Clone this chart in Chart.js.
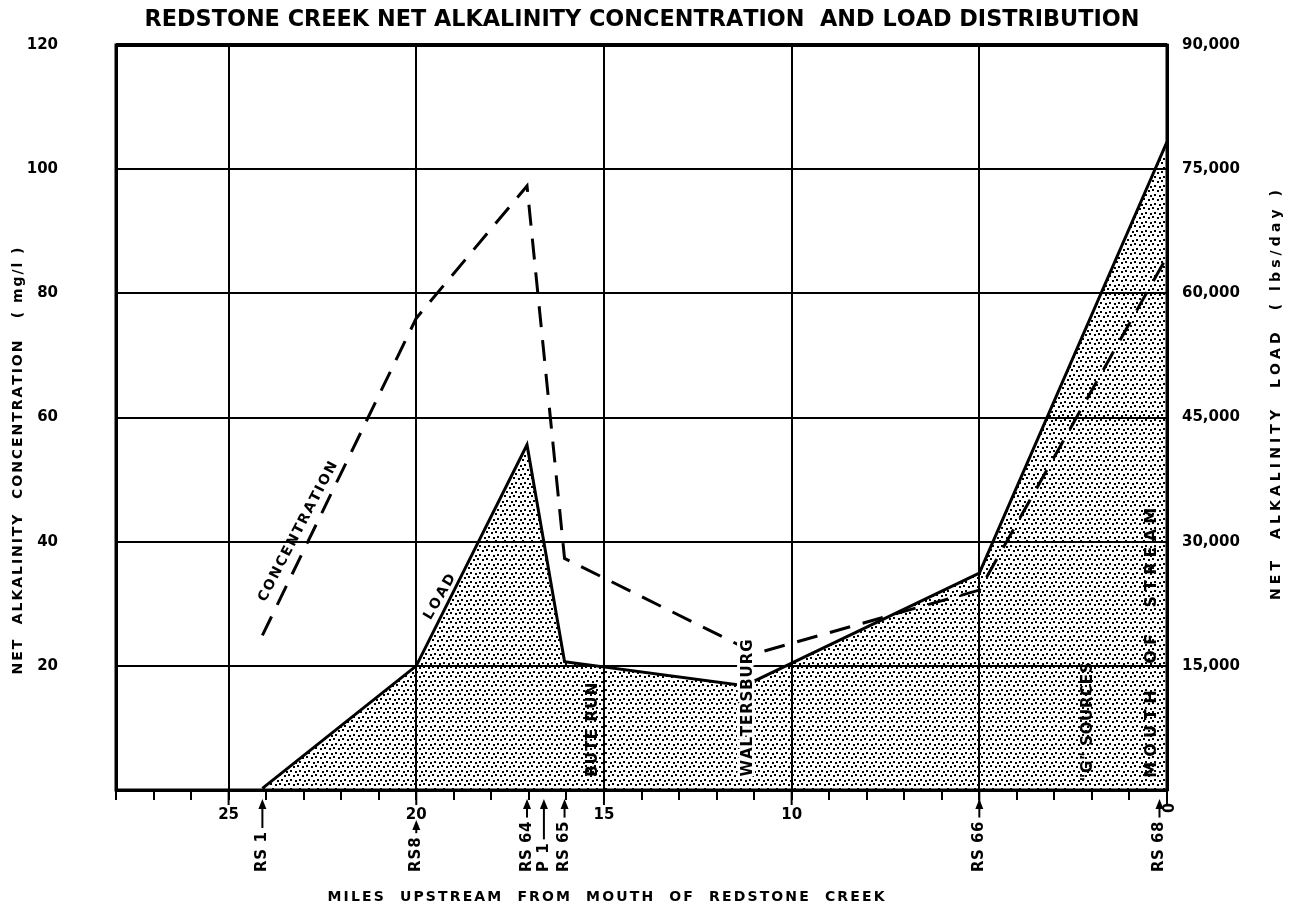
<!DOCTYPE html>
<html>
<head>
<meta charset="utf-8">
<script src="https://cdn.jsdelivr.net/npm/chart.js@4.4.1/dist/chart.umd.min.js"></script>
<style>
  html, body { margin: 0; background: #fff; }
  canvas { display: block; }
</style>
</head>
<body>
<canvas id="chart" width="1290" height="917"></canvas>
<script>
// values (miles upstream from the mouth)
const loadMiles = [24.1, 20, 17.05, 16.05, 11.25, 5, 0];
const loadLbsPerDay = [200, 15000, 41700, 15500, 12600, 26200, 78300];
const concMiles = [24.1, 20, 17.05, 16.05, 10.95, 5, 0];
const concMgPerL = [24.9, 76.0, 97.3, 37.3, 22.0, 32.2, 85.9];

const mileTickLabels = [25, 20, 15, 10];
const concTicks = [0, 20, 40, 60, 80, 100, 120];
const loadTicks = [0, 15000, 30000, 45000, 60000, 75000, 90000];

const stationNames = ['RS 1', 'RS8', 'RS 64', 'P 1', 'RS 65', 'RS 66', 'RS 68'];
const stationMiles = [24.1, 20, 17.05, 16.6, 16.05, 5, 0.2];

const FONT = "'DejaVu Sans', sans-serif";

// stipple fill for the load area
function stipple() {
  const c = document.createElement('canvas');
  c.width = 9; c.height = 9;
  const g = c.getContext('2d');
  g.fillStyle = '#000';
  [[0, 0], [5, 1], [2, 5], [7, 6]].forEach(([x, y]) => g.fillRect(x, y, 2, 2));
  return g.createPattern(c, 'repeat');
}

// draw text centred on (cx, cy), stretched or squeezed to a given length
function drawSpaced(ctx, text, cx, cy, angle, length, font, halo) {
  ctx.save();
  ctx.font = font;
  ctx.translate(cx, cy);
  ctx.rotate(angle);
  const chars = [...text];
  const widths = chars.map(ch => ctx.measureText(ch).width);
  const natural = widths.reduce((a, b) => a + b, 0);
  let gap = 0, sx = 1;
  if (length > natural && chars.length > 1) gap = (length - natural) / (chars.length - 1);
  else sx = length / natural;
  ctx.scale(sx, 1);
  ctx.textBaseline = 'middle';
  ctx.textAlign = 'left';
  const start = -(natural + gap * (chars.length - 1)) / 2;
  if (halo) {
    ctx.strokeStyle = '#fff';
    ctx.lineWidth = 6;
    ctx.lineJoin = 'round';
    let x = start;
    chars.forEach((ch, i) => { ctx.strokeText(ch, x, 0); x += widths[i] + gap; });
  }
  ctx.fillStyle = '#000';
  let x = start;
  chars.forEach((ch, i) => { ctx.fillText(ch, x, 0); x += widths[i] + gap; });
  ctx.restore();
}

const notes = {
  id: 'notes',
  afterDraw(chart) {
    const { ctx, chartArea: a, scales } = chart;
    const xs = scales.x, ys = scales.y;
    const px = m => xs.getPixelForValue(m);
    const py = v => ys.getPixelForValue(v);

    // heavy frame
    ctx.save();
    ctx.strokeStyle = '#000';
    ctx.lineWidth = 3;
    ctx.strokeRect(a.left, a.top, a.right - a.left, a.bottom - a.top);
    ctx.lineWidth = 4;
    ctx.beginPath();
    ctx.moveTo(a.left, a.top);
    ctx.lineTo(a.right, a.top);
    ctx.stroke();

    // longer ticks every 5 miles
    ctx.lineWidth = 2;
    for (let m = 0; m <= 28; m += 5) {
      ctx.beginPath();
      ctx.moveTo(px(m), a.bottom);
      ctx.lineTo(px(m), a.bottom + 15);
      ctx.stroke();
    }
    ctx.restore();

    // title and axis titles
    drawSpaced(ctx, 'REDSTONE CREEK NET ALKALINITY CONCENTRATION  AND LOAD DISTRIBUTION',
      642, 20, 0, 995, `bold 23px ${FONT}`);
    drawSpaced(ctx, 'NET  ALKALINITY  CONCENTRATION   ( mg/l )',
      18, 461, -Math.PI / 2, 427, `bold 14px ${FONT}`);
    drawSpaced(ctx, 'NET  ALKALINITY  LOAD  ( lbs/day )',
      1276, 395, -Math.PI / 2, 410, `bold 14px ${FONT}`);
    drawSpaced(ctx, 'MILES  UPSTREAM  FROM  MOUTH  OF  REDSTONE  CREEK',
      606, 897, 0, 557, `bold 14px ${FONT}`);

    // labels along the lines
    const cAng = Math.atan2(py(concMgPerL[1]) - py(concMgPerL[0]), px(concMiles[1]) - px(concMiles[0]));
    drawSpaced(ctx, 'CONCENTRATION', px(23.15), py(41.6), cAng + 0.03, 156, `bold 14px ${FONT}`);
    const y2 = scales.y2;
    const lAng = Math.atan2(y2.getPixelForValue(loadLbsPerDay[2]) - y2.getPixelForValue(loadLbsPerDay[1]),
      px(loadMiles[2]) - px(loadMiles[1]));
    drawSpaced(ctx, 'LOAD', px(19.37), py(31.1), lAng + 0.06, 50, `bold 14px ${FONT}`);

    // vertical place names
    const up = -Math.PI / 2;
    drawSpaced(ctx, 'BUTE RUN', px(15.29), py(9.7), up, 94, `bold 15px ${FONT}`);
    drawSpaced(ctx, 'WALTERSBURG', px(11.16), py(13.2), up, 137, `bold 15px ${FONT}`, true);
    drawSpaced(ctx, '"G" SOURCES', px(2.1), py(10.95), up, 119, `bold 15px ${FONT}`);
    drawSpaced(ctx, 'MOUTH  OF  STREAM', px(0.4), py(23.7), up, 270, `bold 16px ${FONT}`);

    // station markers under the axis
    ctx.save();
    ctx.font = `bold 15px ${FONT}`;
    ctx.fillStyle = '#000';
    ctx.strokeStyle = '#000';
    stationNames.forEach((name, i) => {
      const x = px(stationMiles[i]);
      const w = ctx.measureText(name).width + 2;
      const textBottom = a.bottom + 82;
      const textTop = textBottom - w;
      const tip = mileTickLabels.includes(stationMiles[i]) ? a.bottom + 30 : a.bottom + 9;
      drawSpaced(ctx, name, x, textBottom - w / 2, up, w, ctx.font);
      ctx.lineWidth = 2;
      ctx.beginPath();
      ctx.moveTo(x, tip + 6);
      ctx.lineTo(x, textTop - 4);
      ctx.stroke();
      ctx.beginPath();
      ctx.moveTo(x, tip);
      ctx.lineTo(x - 4, tip + 10);
      ctx.lineTo(x + 4, tip + 10);
      ctx.closePath();
      ctx.fill();
    });
    ctx.restore();
    drawSpaced(ctx, '0', px(0) + 3, a.bottom + 18, up, 10, `bold 15px ${FONT}`);
  }
};

new Chart(document.getElementById('chart'), {
  type: 'line',
  data: {
    datasets: [
      {
        label: 'Load',
        data: loadMiles.map((m, i) => ({ x: m, y: loadLbsPerDay[i] })),
        yAxisID: 'y2',
        borderColor: '#000',
        borderWidth: 3,
        backgroundColor: stipple(),
        fill: 'origin',
        pointRadius: 0,
        tension: 0,
      },
      {
        label: 'Concentration',
        data: concMiles.map((m, i) => ({ x: m, y: concMgPerL[i] })),
        yAxisID: 'y',
        borderColor: '#000',
        borderWidth: 3,
        borderDash: [21, 13],
        fill: false,
        pointRadius: 0,
        tension: 0,
      },
    ],
  },
  options: {
    responsive: false,
    animation: false,
    devicePixelRatio: 1,
    layout: { padding: { top: 45 } },
    plugins: {
      legend: { display: false },
      tooltip: { enabled: false },
    },
    scales: {
      x: {
        type: 'linear',
        min: 0,
        max: 28,
        reverse: true,
        afterFit: s => { s.height = 127; },
        ticks: {
          stepSize: 1,
          autoSkip: false,
          maxRotation: 0,
          padding: 6,
          color: '#000',
          font: { family: FONT, size: 15, weight: 'bold' },
          callback: v => mileTickLabels.includes(v) ? String(v) : '',
        },
        grid: {
          color: c => c.tick && c.tick.value % 5 === 0 ? '#000' : 'rgba(0,0,0,0)',
          lineWidth: 2,
          tickColor: '#000',
          tickLength: 10,
          tickWidth: 2,
        },
        border: { color: '#000', width: 3 },
      },
      y: {
        position: 'left',
        min: 0,
        max: 120,
        afterBuildTicks: s => { s.ticks = concTicks.map(v => ({ value: v })); },
        afterFit: s => { s.width = 116; },
        ticks: {
          padding: 2,
          color: '#000',
          font: { family: FONT, size: 15, weight: 'bold' },
          callback: v => v === 0 ? '' : String(v),
        },
        grid: { color: '#000', lineWidth: 2, tickLength: 56, tickColor: 'rgba(0,0,0,0)' },
        border: { color: '#000', width: 3 },
      },
      y2: {
        position: 'right',
        min: 0,
        max: 90000,
        afterBuildTicks: s => { s.ticks = loadTicks.map(v => ({ value: v })); },
        afterFit: s => { s.width = 123; },
        ticks: {
          padding: 2,
          color: '#000',
          font: { family: FONT, size: 15, weight: 'bold' },
          callback: v => v === 0 ? '' : v.toLocaleString('en-US'),
        },
        grid: { drawOnChartArea: false, tickLength: 13, tickColor: 'rgba(0,0,0,0)' },
        border: { color: '#000', width: 3 },
      },
    },
  },
  plugins: [notes],
});
</script>
</body>
</html>
